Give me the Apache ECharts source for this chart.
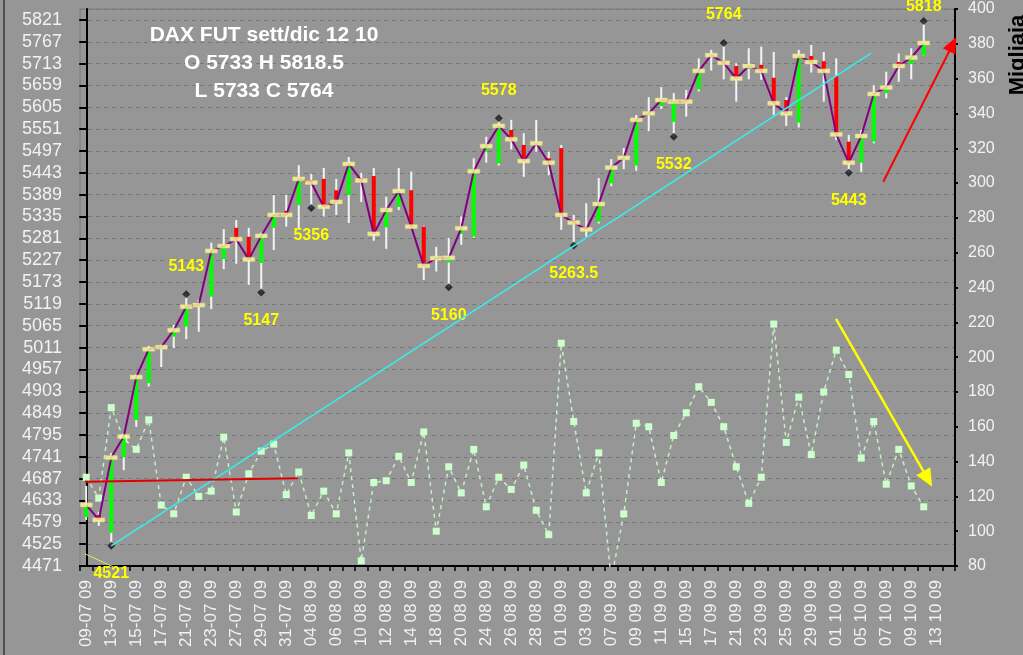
<!DOCTYPE html>
<html>
<head>
<meta charset="utf-8">
<title>DAX FUT sett/dic</title>
<script src="https://cdn.jsdelivr.net/npm/echarts@6.0.0/dist/echarts.min.js"></script>
<style>
  html, body { margin: 0; padding: 0; background: #969696; }
  #chart { width: 1023px; height: 655px; }
</style>
</head>
<body>
<div id="chart"></div>
<script>
// sedute (l'ultima coppia resta vuota come nell'originale)
const dates = [
  '09-07 09', '10-07 09', '13-07 09', '14-07 09', '15-07 09', '16-07 09', '17-07 09', '20-07 09',
  '21-07 09', '22-07 09', '23-07 09', '24-07 09', '27-07 09', '28-07 09', '29-07 09', '30-07 09', '31-07 09',
  '03 08 09', '04 08 09', '05 08 09', '06 08 09', '07 08 09', '10 08 09', '11 08 09', '12 08 09',
  '13 08 09', '14 08 09', '17 08 09', '18 08 09', '19 08 09', '20 08 09', '21 08 09', '24 08 09',
  '25 08 09', '26 08 09', '27 08 09', '28 08 09', '31 08 09',
  '01 09 09', '02 09 09', '03 09 09', '04 09 09', '07 09 09', '08 09 09', '09 09 09', '10 09 09',
  '11 09 09', '14 09 09', '15 09 09', '16 09 09', '17 09 09', '18 09 09', '21 09 09', '22 09 09',
  '23 09 09', '24 09 09', '25 09 09', '28 09 09', '29 09 09', '30 09 09',
  '01 10 09', '02 10 09', '05 10 09', '06 10 09', '07 10 09', '08 10 09', '09 10 09', '12 10 09',
  '13 10 09', '14 10 09'
];

const opens = [
  4592, 4597, 4553, 4740, 4832, 4923, 5008, 5038, 5063, 5112,
  5137, 5230, 5307, 5285, 5220, 5307, 5349, 5363, 5425, 5428,
  5400, 5388, 5430, 5435, 5308, 5359, 5400, 5310, 5228, 5221,
  5292, 5285, 5495, 5466, 5549, 5512, 5510, 5479, 5504, 5326,
  5308, 5322, 5417, 5475, 5461, 5585, 5608, 5569, 5625, 5649,
  5730, 5720, 5707, 5700, 5710, 5678, 5623, 5567, 5732, 5719,
  5682, 5520, 5468, 5520, 5640, 5717, 5712, 5733
];
const highs = [
  4669, 4605, 4750, 4800, 4945, 5015, 5018, 5067, 5143, 5129,
  5270, 5304, 5326, 5307, 5295, 5388, 5388, 5462, 5440, 5455,
  5428, 5482, 5443, 5455, 5384, 5455, 5446, 5312, 5260, 5282,
  5335, 5479, 5532, 5578, 5574, 5541, 5574, 5495, 5512, 5339,
  5368, 5430, 5477, 5504, 5586, 5630, 5655, 5640, 5648, 5726,
  5747, 5764, 5714, 5751, 5755, 5742, 5630, 5747, 5759, 5742,
  5726, 5537, 5549, 5660, 5693, 5738, 5751, 5818.5
];
const lows = [
  4585, 4570, 4521, 4708, 4815, 4915, 4963, 5010, 5032, 5050,
  5106, 5205, 5218, 5166, 5147, 5252, 5310, 5307, 5356, 5335,
  5339, 5319, 5371, 5275, 5255, 5351, 5305, 5178, 5199, 5160,
  5265, 5282, 5468, 5461, 5501, 5433, 5495, 5437, 5302, 5263.5,
  5285, 5318, 5410, 5452, 5448, 5546, 5601, 5532, 5582, 5644,
  5696, 5674, 5619, 5674, 5673, 5586, 5559, 5555, 5691, 5619,
  5524, 5443, 5445, 5516, 5627, 5668, 5674, 5733
];
const closes = [
  4622, 4585, 4739, 4791, 4938, 5007, 5012, 5054, 5112, 5116,
  5250, 5262, 5279, 5229, 5287, 5339, 5339, 5428, 5419, 5359,
  5371, 5465, 5424, 5292, 5351, 5398, 5310, 5213, 5232, 5233,
  5306, 5447, 5509, 5559, 5526, 5472, 5516, 5468, 5339, 5320,
  5303, 5366, 5456, 5480, 5574, 5590, 5623, 5619, 5619, 5695,
  5734, 5715, 5676, 5707, 5695, 5615, 5590, 5732, 5717, 5695,
  5538, 5468, 5534, 5638, 5654, 5707, 5728, 5764
];
// volumi in migliaia (asse destro)
const volumes = [
  131, 119, 171, 153, 147, 164, 115, 110, 131, 120,
  123, 154, 111, 133, 146, 150, 121, 134, 109, 123,
  110, 145, 83, 128, 129, 143, 128, 157, 100, 137,
  122, 147, 114, 131, 124, 138, 112, 98, 208, 163,
  122, 145, 72, 110, 162, 160, 128, 155, 168, 183,
  174, 160, 137, 116, 131, 219, 151, 177, 144, 180,
  204, 190, 142, 163, 127, 147, 126, 114
];

// massimi / minimi segnati col rombo
const swingIdx = [2, 8, 14, 18, 29, 33, 39, 47, 51, 61, 67];
const swingVal = [4521, 5143, 5147, 5356, 5160, 5578, 5263.5, 5532, 5764, 5443, 5818.5];
const swingText = ['4521', '5143', '5147', '5356', '5160', '5578', '5263.5', '5532', '5764', '5443', '5818'];

const titleLines = ['DAX FUT sett/dic 12 10', 'O 5733 H 5818.5', 'L 5733 C 5764'];

// linee disegnate a mano (indice seduta, valore)
const trendUp = [[2, 4521], [62.8, 5739]];
const flatLine = [[-0.1, 4679], [16.9, 4688]];
const leader = [[-0.1, 4501], [2.15, 4469]];
const redArrow = [[63.76, 5421], [69.32, 5761]];
const yellowArrow = [[59.98, 222], [67.32, 130]];

const FONT = 'Liberation Sans';

const ohlc = closes.map((c, i) => [i, opens[i], highs[i], lows[i], c]);
const last = closes.length - 1;
const swings = swingIdx.map((idx, k) => {
  const isHigh = swingVal[k] === highs[idx];
  return {
    value: [idx, swingVal[k]],
    label: {
      formatter: swingText[k],
      position: isHigh ? 'top' : 'bottom',
      distance: idx === last ? 2 : 16
    }
  };
});

function arrowSeries(pts, yIdx, color, width, size) {
  return {
    type: 'line',
    xAxisIndex: 1,
    yAxisIndex: yIdx,
    data: pts,
    symbol: 'none',
    lineStyle: { opacity: 0 },
    silent: true,
    clip: false,
    z: 8,
    markLine: {
      silent: true,
      symbol: ['none', 'triangle'],
      symbolSize: size,
      label: { show: false },
      emphasis: { disabled: true },
      lineStyle: { color: color, width: width, type: 'solid' },
      itemStyle: { color: color },
      data: [[{ coord: pts[0] }, { coord: pts[1] }]]
    }
  };
}

const options = {
  animation: false,
  backgroundColor: '#969696',
  textStyle: { fontFamily: FONT },
  grid: {
    left: 80, right: 68, top: 9, bottom: 89,
    show: true, borderColor: '#7c7c7c', borderWidth: 1
  },
  xAxis: [
    {
      type: 'category',
      data: dates,
      boundaryGap: true,
      axisLine: { lineStyle: { color: '#000', width: 2 } },
      axisTick: { show: true, interval: 0, length: 5, lineStyle: { color: '#000', width: 1.5 } },
      axisLabel: { interval: 1, rotate: 90, color: '#f2f2f2', fontSize: 17, margin: 14, fontFamily: FONT },
      splitLine: { show: false }
    },
    {
      // asse nascosto per posizionare linee e frecce tra le sedute
      type: 'value', min: -0.5, max: dates.length - 0.5, show: false
    }
  ],
  yAxis: [
    {
      type: 'value',
      min: 4471, max: 5848, interval: 54,
      position: 'left',
      axisLine: { show: true, lineStyle: { color: '#000', width: 2 } },
      axisTick: { show: true, length: 7, lineStyle: { color: '#000', width: 2 } },
      axisLabel: {
        color: '#f2f2f2', fontSize: 18, margin: 18, showMaxLabel: false, fontFamily: FONT,
        formatter: (v) => String(v)
      },
      splitLine: { show: true, lineStyle: { color: '#787878', width: 1, type: [4, 4] } }
    },
    {
      type: 'value',
      min: 80, max: 400, interval: 20,
      position: 'right',
      axisLine: { show: true, lineStyle: { color: '#000', width: 2 } },
      axisTick: { show: true, length: 3, lineStyle: { color: '#000', width: 2 } },
      axisLabel: { color: '#f2f2f2', fontSize: 16, margin: 13, fontFamily: FONT },
      splitLine: { show: false }
    }
  ],
  graphic: [
    {
      type: 'rect', silent: true, z: 100,
      shape: { x: 4, y: -10, width: 1100, height: 700 },
      style: { fill: 'none', stroke: '#3a3a3a', lineWidth: 1.5 }
    },
    {
      type: 'text', silent: true, x: 264, y: 21, z: 100,
      style: {
        text: titleLines.join('\n'),
        fill: '#ffffff',
        font: 'bold 21px ' + FONT,
        align: 'center',
        verticalAlign: 'top',
        lineHeight: 28
      }
    },
    {
      type: 'text', silent: true, x: 1018, y: 55, rotation: Math.PI / 2, z: 100,
      style: {
        text: 'Migliaia',
        fill: '#000',
        font: 'bold 22px ' + FONT,
        align: 'center',
        verticalAlign: 'middle'
      }
    }
  ],
  series: [
    {
      name: 'Volumi',
      type: 'line',
      yAxisIndex: 1,
      data: volumes,
      symbol: 'rect',
      symbolSize: 7,
      showAllSymbol: true,
      lineStyle: { color: '#c6f0c6', width: 1.5, type: [4, 4] },
      itemStyle: { color: '#ccffcc' },
      z: 1
    },
    {
      name: 'Candele',
      type: 'custom',
      data: ohlc,
      encode: { x: 0, y: [1, 2, 3, 4] },
      z: 2,
      renderItem: function (params, api) {
        const i = api.value(0);
        const o = api.value(1), c = api.value(4);
        const pO = api.coord([i, o]);
        const pH = api.coord([i, api.value(2)]);
        const pL = api.coord([i, api.value(3)]);
        const pC = api.coord([i, c]);
        return {
          type: 'group',
          children: [
            {
              type: 'line',
              shape: { x1: pH[0], y1: pH[1], x2: pL[0], y2: pL[1] },
              style: { stroke: '#f4f4f4', lineWidth: 2 }
            },
            {
              type: 'rect',
              shape: {
                x: pO[0] - 2,
                y: Math.min(pO[1], pC[1]),
                width: 4,
                height: Math.max(1, Math.abs(pO[1] - pC[1]))
              },
              style: { fill: c >= o ? '#00ff00' : '#ff0000' }
            }
          ]
        };
      }
    },
    {
      name: 'Chiusure',
      type: 'line',
      data: closes,
      symbol: 'none',
      lineStyle: { color: '#800080', width: 2 },
      z: 3
    },
    {
      name: 'Sett',
      type: 'scatter',
      data: closes,
      symbol: 'rect',
      symbolSize: [12, 4],
      itemStyle: { color: '#ffff99', borderColor: '#e2d48c', borderWidth: 0.5 },
      z: 4
    },
    {
      name: 'Estremi',
      type: 'scatter',
      data: swings,
      symbol: 'diamond',
      symbolSize: 8,
      itemStyle: { color: '#141414' },
      label: {
        show: true,
        color: '#ffff00',
        opacity: 1,
        fontSize: 16,
        fontWeight: 'bold',
        fontFamily: FONT,
        textBorderWidth: 0,
        textShadowBlur: 0
      },
      z: 5
    },
    {
      name: 'Trend',
      type: 'line',
      xAxisIndex: 1,
      data: trendUp,
      symbol: 'none',
      lineStyle: { color: '#33f0f0', width: 1.5 },
      z: 6
    },
    {
      name: 'Orizzontale',
      type: 'line',
      xAxisIndex: 1,
      data: flatLine,
      symbol: 'none',
      lineStyle: { color: '#e00000', width: 2 },
      z: 6
    },
    {
      name: 'Guida',
      type: 'line',
      xAxisIndex: 1,
      data: leader,
      symbol: 'none',
      clip: false,
      lineStyle: { color: '#e6e65a', width: 1 },
      z: 6
    },
    arrowSeries(redArrow, 0, '#ff0000', 2, [14, 16]),
    arrowSeries(yellowArrow, 1, '#ffff00', 2.5, [16, 18])
  ]
};

const chart = echarts.init(document.getElementById('chart'));
chart.setOption(options);
window.addEventListener('resize', () => {
  chart.resize();
});
</script>
</body>
</html>
